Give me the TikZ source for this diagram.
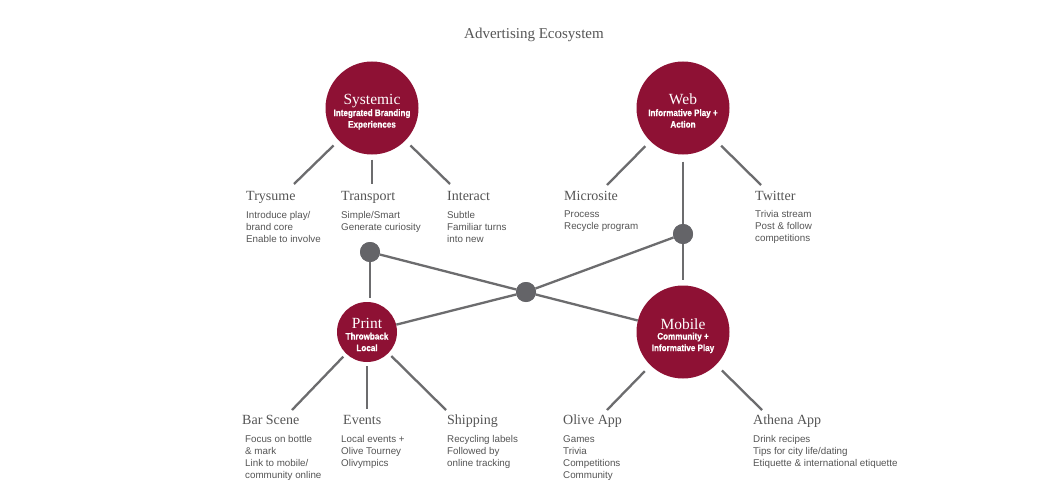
\documentclass[tikz,border=0pt]{standalone}
\usepackage{fontspec}
\setmainfont{Liberation Serif}
\newfontfamily\descfont{Liberation Sans}
\newfontfamily\subfont[FakeStretch=0.86,FakeBold=0.6]{Liberation Sans Bold}
\definecolor{crim}{RGB}{142,17,52}
\definecolor{linegray}{RGB}{108,108,110}
\definecolor{dotgray}{RGB}{100,100,104}
\definecolor{txtgray}{RGB}{85,85,85}
\begin{document}
\begin{tikzpicture}[x=1pt,y=-1pt,
  hub/.style={circle,fill=crim,inner sep=0pt,minimum size=#1},
  hub/.default=93pt,
  jdot/.style={circle,fill=dotgray,inner sep=0pt,minimum size=20pt},
  spoke/.style={draw=linegray,line width=2.3pt},
  lbl/.style={anchor=base west,inner sep=0pt,font=\fontsize{14}{16}\selectfont,text=txtgray},
  desc/.style={anchor=north west,inner sep=0pt,align=left,font=\descfont\fontsize{9.8}{11.9}\selectfont,text=txtgray},
  hubtitle/.style={anchor=base,inner sep=0pt,text=white,font=\fontsize{15.5}{16}\selectfont},
  hubsub/.style={anchor=north,inner sep=0pt,align=center,text=white,font=\subfont\fontsize{9.4}{11.6}\selectfont}
]
\useasboundingbox (0,0) rectangle (1050,487);
\fill[white] (0,0) rectangle (1050,487);

% title
\node[anchor=base,inner sep=0pt,text=txtgray,font=\fontsize{15}{17}\selectfont] (title) at (534,39) {Advertising Ecosystem};

% hubs
\node[hub] (sys) at (372,108) {};
\node[hub] (web) at (683,108) {};
\node[hub=60pt] (print) at (367,332) {};
\node[hub] (mob) at (683,332) {};

% junction dots
\node[jdot] (d1) at (370,252) {};
\node[jdot] (d2) at (683,234) {};
\node[jdot] (dc) at (526,292) {};

% hub texts
\node[hubtitle] (systitle) at (372,104) {Systemic};
\node[hubsub] (syssub) at (372,109) {Integrated Branding\\Experiences};
\node[hubtitle] (webtitle) at (683,104) {Web};
\node[hubsub] (websub) at (683,109) {Informative Play +\\Action};
\node[hubtitle] (printtitle) at (367,328) {Print};
\node[hubsub] (printsub) at (367,332.5) {Throwback\\Local};
\node[hubtitle] (mobtitle) at (683,329) {Mobile};
\node[hubsub] (mobsub) at (683,332.5) {Community +\\Informative Play};

% spoke end points
\coordinate (eTry) at (294,184);
\coordinate (eTra) at (372,184);
\coordinate (eInt) at (450,184);
\coordinate (eMic) at (607,185);
\coordinate (eTwi) at (761,185);
\coordinate (eBar) at (292,410);
\coordinate (eEve) at (367,409);
\coordinate (eShi) at (446,410);
\coordinate (eOli) at (607,410);
\coordinate (eAth) at (762,410);

% spokes
\draw[spoke,shorten <=7pt] (sys) -- (eTry);
\draw[spoke,shorten <=5pt] (sys) -- (eTra);
\draw[spoke,shorten <=7pt] (sys) -- (eInt);
\draw[spoke,shorten <=7pt] (web) -- (eMic);
\draw[spoke,shorten <=7pt] (web) -- (eTwi);
\draw[spoke,shorten <=4pt] (print) -- (eBar);
\draw[spoke,shorten <=4pt] (print) -- (eEve);
\draw[spoke,shorten <=4pt] (print) -- (eShi);
\draw[spoke,shorten <=8pt] (mob) -- (eOli);
\draw[spoke,shorten <=8pt] (mob) -- (eAth);

% connections
\draw[spoke,shorten <=7pt] (web) -- (d2);
\draw[spoke,shorten >=5pt] (d2) -- (mob);
\draw[spoke,shorten >=4pt] (d1) -- (d1 |- print.north);
\draw[spoke] (d1) -- (dc) -- (mob);
\draw[spoke] (print) -- (dc) -- (d2);

% redraw dots on top
\fill[dotgray] (d1) circle (10pt);
\fill[dotgray] (d2) circle (10pt);
\fill[dotgray] (dc) circle (10pt);

% labels top row
\node[lbl] (ltry) at (246,200) {Trysume};
\node[desc] (dtry) at (246,211.5) {Introduce play/\\brand core\\Enable to involve};
\node[lbl] (ltra) at (341,200) {Transport};
\node[desc] (dtra) at (341,211.5) {Simple/Smart\\Generate curiosity};
\node[lbl] (lint) at (447,200) {Interact};
\node[desc] (dint) at (447,211.5) {Subtle\\Familiar turns\\into new};
\node[lbl] (lmic) at (564,200) {Microsite};
\node[desc] (dmic) at (564,210.5) {Process\\Recycle program};
\node[lbl] (ltwi) at (755,200) {Twitter};
\node[desc] (dtwi) at (755,210.5) {Trivia stream\\Post \& follow\\competitions};

% labels bottom row
\node[lbl] (lbar) at (242,424) {Bar Scene};
\node[desc] (dbar) at (245,435.5) {Focus on bottle\\\& mark\\Link to mobile/\\community online};
\node[lbl] (leve) at (343,424) {Events};
\node[desc] (deve) at (341,435.5) {Local events +\\Olive Tourney\\Olivympics};
\node[lbl] (lshi) at (447,424) {Shipping};
\node[desc] (dshi) at (447,435.5) {Recycling labels\\Followed by\\online tracking};
\node[lbl] (loli) at (563,424) {Olive App};
\node[desc] (doli) at (563,435.5) {Games\\Trivia\\Competitions\\Community};
\node[lbl] (lath) at (753,424) {Athena App};
\node[desc] (dath) at (753,435.5) {Drink recipes\\Tips for city life/dating\\Etiquette \& international etiquette};
\end{tikzpicture}
\end{document}
